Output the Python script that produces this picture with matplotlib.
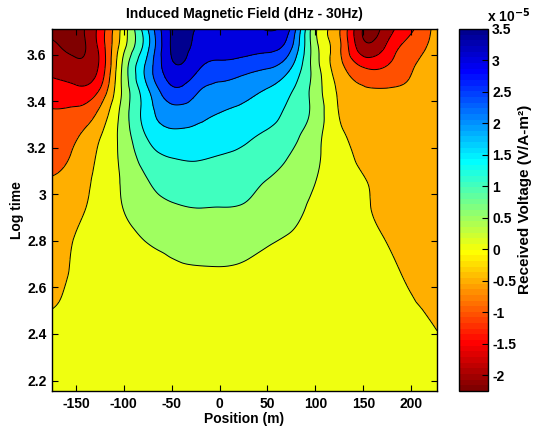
import numpy as np
import matplotlib
matplotlib.use("Agg")
import matplotlib.pyplot as plt
import matplotlib.tri as mtri
from matplotlib.colors import ListedColormap, Normalize
from matplotlib.cm import ScalarMappable

plt.rcParams['font.family'] = ['Liberation Sans', 'DejaVu Sans']
plt.rcParams['font.weight'] = 'bold'
plt.rcParams['mathtext.default'] = 'bf'

# Station positions (m) and log10 time gates
position_m = [-175, -150, -125, -100, -75, -50, -25, 0, 25, 50, 75, 100, 125, 150, 175, 200, 227]
log_time = [2.155, 2.35, 2.5, 2.65, 2.8, 2.95, 3.05, 3.15, 3.25, 3.35, 3.45, 3.55, 3.63, 3.71]

# Received voltage, x 1e-5 V/A-m^2 (one row per time gate, early rows first)
voltage_e5 = [
    [0.06, 0.07, 0.08, 0.09, 0.10, 0.11, 0.12, 0.12, 0.12, 0.11, 0.10, 0.09, 0.08, 0.07, 0.06, 0.05, 0.04],
    [0.03, 0.06, 0.09, 0.12, 0.15, 0.18, 0.20, 0.21, 0.20, 0.18, 0.15, 0.12, 0.09, 0.07, 0.05, 0.03, 0.01],
    [0.005, 0.05, 0.10, 0.14, 0.18, 0.22, 0.25, 0.26, 0.24, 0.20, 0.16, 0.12, 0.09, 0.06, 0.04, 0.02, -0.03],
    [-0.15, 0.05, 0.12, 0.20, 0.27, 0.38, 0.42, 0.43, 0.40, 0.33, 0.26, 0.20, 0.15, 0.10, 0.05, -0.04, -0.15],
    [-0.25, 0.03, 0.20, 0.35, 0.52, 0.63, 0.70, 0.71, 0.66, 0.54, 0.45, 0.35, 0.25, 0.12, -0.01, -0.15, -0.20],
    [-0.38, -0.15, 0.20, 0.52, 0.80, 0.96, 1.02, 1.01, 0.98, 0.81, 0.64, 0.42, 0.28, 0.07, -0.12, -0.20, -0.20],
    [-0.47, -0.28, 0.18, 0.56, 0.97, 1.21, 1.27, 1.23, 1.15, 0.97, 0.79, 0.50, 0.27, 0.04, -0.15, -0.22, -0.20],
    [-0.61, -0.40, 0.11, 0.64, 1.24, 1.48, 1.52, 1.45, 1.36, 1.19, 0.94, 0.58, 0.22, -0.10, -0.25, -0.25, -0.20],
    [-0.80, -0.55, -0.03, 0.73, 1.55, 1.86, 1.82, 1.75, 1.61, 1.41, 1.14, 0.66, 0.12, -0.20, -0.30, -0.30, -0.25],
    [-0.95, -0.88, -0.38, 0.75, 1.77, 2.30, 2.18, 2.00, 1.88, 1.71, 1.34, 0.82, -0.02, -0.30, -0.35, -0.35, -0.25],
    [-1.32, -1.40, -0.98, 0.66, 1.95, 2.90, 2.62, 2.35, 2.20, 1.98, 1.55, 0.77, -0.10, -0.45, -0.48, -0.45, -0.25],
    [-1.63, -1.85, -1.40, 0.67, 2.19, 3.40, 3.15, 2.85, 2.74, 2.58, 2.04, 0.73, -0.33, -1.05, -0.98, -0.55, -0.28],
    [-1.84, -2.12, -1.36, 0.38, 1.90, 3.55, 3.35, 3.20, 3.20, 3.15, 2.54, 0.68, -0.41, -1.80, -1.39, -0.76, -0.30],
    [-2.25, -2.18, -1.31, 0.25, 2.00, 3.56, 3.48, 3.20, 3.35, 3.53, 2.90, 0.60, -0.45, -2.02, -1.75, -1.08, -0.30],
]

contour_levels = [-2, -1.5, -1, -0.5, 0, 0.5, 1, 1.5, 2, 2.5, 3, 3.5]
cbar_ticklabels = ['-2', '-1.5', '-1', '-0.5', '0', '0.5', '1', '1.5', '2', '2.5', '3', '3.5']
color_limits = (-2.25, 3.5)
x_ticks = [-150, -100, -50, 0, 50, 100, 150, 200]
y_ticks = [2.2, 2.4, 2.6, 2.8, 3.0, 3.2, 3.4, 3.6]
y_ticklabels = ['2.2', '2.4', '2.6', '2.8', '3', '3.2', '3.4', '3.6']


def jet_table(m=64):
    """Classic piecewise-linear jet lookup table with m entries."""
    n = int(np.ceil(m / 4))
    u = np.concatenate([np.arange(1, n + 1) / n, np.ones(n - 1), np.arange(n, 0, -1) / n])
    g = int(np.ceil(n / 2)) - (1 if m % 4 == 1 else 0) + np.arange(1, len(u) + 1)
    r = g + n
    b = g - n
    g = g[g <= m]
    r = r[r <= m]
    b = b[b >= 1]
    J = np.zeros((m, 3))
    J[r - 1, 0] = u[:len(r)]
    J[g - 1, 1] = u[:len(g)]
    J[b - 1, 2] = u[len(u) - len(b):]
    return J


xg = np.array(position_m, float)
yg = np.array(log_time, float)
Z = np.array(voltage_e5, float)
cmin, cmax = color_limits

# smooth C1 surface through the gridded readings
Xg, Yg = np.meshgrid(xg, yg)
tri = mtri.Triangulation(Xg.ravel(), (Yg.ravel() - yg.min()) * 250.0)
interp = mtri.CubicTriInterpolator(tri, Z.ravel(), kind='min_E')
xf = np.linspace(xg.min(), xg.max(), 400)
yf = np.linspace(yg.min(), yg.max(), 300)
Xf, Yf = np.meshgrid(xf, yf)
Zf = np.asarray(interp(Xf, (Yf - yg.min()) * 250.0))

# flipped jet so positive responses are blue
cmap = ListedColormap(jet_table(64)[::-1])
norm = Normalize(vmin=cmin, vmax=cmax)


def level_color(v):
    idx = int(np.clip(np.floor((v - cmin) / (cmax - cmin) * 64), 0, 63))
    return cmap.colors[idx]


# each filled band takes the colour of its lower bounding level
bounds = [min(Z.min(), Zf.min()) - 1] + contour_levels + [max(Z.max(), Zf.max()) + 1]
fill_colors = [level_color(cmin)] + [level_color(v) for v in contour_levels]

W, H = 540, 432
fig = plt.figure(figsize=(W / 100, H / 100), dpi=100)
ax = fig.add_axes([52 / W, 1 - 391 / H, 385 / W, 362 / H])
cax = fig.add_axes([459 / W, 1 - 391 / H, 29 / W, 362 / H])

ax.contourf(Xf, Yf, Zf, levels=bounds, colors=fill_colors)
ax.contour(Xf, Yf, Zf, levels=contour_levels, colors='k', linewidths=0.7,
           linestyles='solid')

ax.set_xlim(-175, 227)
ax.set_ylim(2.155, 3.71)
ax.set_xticks(x_ticks)
ax.set_xticklabels([str(t) for t in x_ticks])
ax.set_yticks(y_ticks)
ax.set_yticklabels(y_ticklabels)
ax.tick_params(direction='in', top=True, right=True, length=4, width=0.8,
               labelsize=10, pad=4)
for s in ax.spines.values():
    s.set_linewidth(1.0)

ax.set_title('Induced Magnetic Field (dHz - 30Hz)', fontsize=10, fontweight='bold', pad=8)
ax.set_xlabel('Position (m)', fontsize=10, fontweight='bold', labelpad=1)
ax.set_ylabel('Log time', fontsize=10, fontweight='bold', labelpad=2)

sm = ScalarMappable(norm=norm, cmap=cmap)
cb = fig.colorbar(sm, cax=cax, ticks=contour_levels)
cb.ax.set_yticklabels(cbar_ticklabels)
cb.ax.tick_params(direction='in', length=4, width=0.8, labelsize=10, pad=3)
cb.outline.set_linewidth(1.0)
cb.set_label('Received Voltage (V/A-m²)', fontsize=11, fontweight='bold')
cb.ax.yaxis.set_label_coords(2.02, 0.53)
cax.text(0.95, 1.012, 'x 10$^{-5}$', transform=cax.transAxes, fontsize=10,
         fontweight='bold', ha='left', va='bottom')

fig.savefig('out.png', dpi=100)
